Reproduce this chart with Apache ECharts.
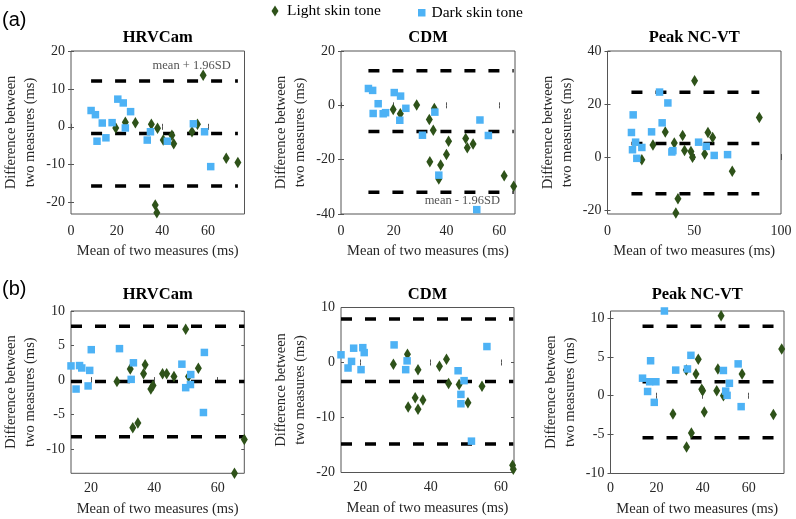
<!DOCTYPE html>
<html><head><meta charset="utf-8">
<script src="https://cdn.jsdelivr.net/npm/echarts@6/dist/echarts.min.js"></script>
<style>html,body{margin:0;padding:0;background:#fff}#c{width:796px;height:519px}</style>
</head><body><div id="c"></div>
<script>
// ---------- data ----------
const panelTitles = ['HRVCam', 'CDM', 'Peak NC-VT', 'HRVCam', 'CDM', 'Peak NC-VT'];
const seriesNames = ['Light skin tone', 'Dark skin tone'];

const a1Light = [[19.6,-0.3],[23.8,1.2],[28.2,1.1],[35.2,0.7],[36.9,-20.6],[37.6,-22.7],[37.9,-0.35],[40.4,-3.5],[44.2,-2.2],[45.0,-4.5],[53.0,-1.3],[55.4,0.7],[57.9,13.6],[68.0,-8.3],[73.1,-9.4]];
const a1Dark = [[8.8,4.3],[10.7,3.2],[11.4,-3.8],[13.7,1.0],[15.3,-2.9],[18.0,1.1],[20.5,7.3],[22.9,6.3],[23.8,-0.3],[26.1,4.0],[33.4,-3.5],[34.8,-1.3],[42.2,-3.8],[53.6,0.8],[58.5,-1.3],[61.2,-10.5]];

const a2Light = [[19.8,-1.5],[22.5,-3.1],[28.7,0.1],[33.5,-5.2],[33.7,-20.8],[35.0,-9.2],[35.4,-1.2],[37.1,-27.1],[37.8,-22.0],[40.0,-18.1],[40.8,-13.2],[47.3,-12.2],[47.9,-15.6],[50.1,-14.2],[61.9,-25.9],[65.5,-29.8]];
const a2Dark = [[10.4,6.2],[12.0,5.5],[12.2,-3.0],[14.1,0.6],[16.0,-3.1],[16.9,-2.7],[20.2,4.7],[22.3,-5.5],[22.6,3.4],[24.6,-1.1],[30.9,-11.0],[35.6,-2.5],[37.1,-25.7],[51.5,-38.4],[52.7,-5.4],[55.9,-11.1]];

const a3Light = [[19.8,-1.0],[26.2,4.5],[33.3,9.4],[38.5,5.25],[39.4,-21.1],[40.6,-15.75],[43.3,8.1],[44.4,2.5],[48.1,2.1],[49.0,-0.1],[50.2,28.75],[56.0,1.1],[57.9,9.25],[60.6,7.4],[71.9,-5.4],[87.5,14.9]];
const a3Dark = [[13.8,9.25],[14.4,2.75],[14.8,15.9],[16.2,5.6],[16.9,-0.5],[19.8,3.6],[25.4,9.5],[30.0,24.5],[31.5,12.9],[34.8,20.4],[37.1,1.9],[37.7,2.4],[52.5,5.6],[56.9,4.0],[61.5,0.6],[69.2,0.9]];

const b1Light = [[28.2,-0.2],[32.4,1.6],[33.2,-6.9],[34.8,-6.2],[36.6,0.9],[37.1,2.2],[38.9,-1.3],[39.6,-0.8],[42.6,0.9],[43.9,0.9],[46.2,0.5],[49.9,7.35],[50.8,0.5],[53.9,1.7],[65.3,-13.5],[68.4,-8.6]];
const b1Dark = [[13.7,2.05],[15.3,-1.3],[16.4,2.1],[17.1,1.75],[19.1,-0.85],[19.6,1.4],[20.1,4.4],[29.0,4.55],[32.7,0.1],[33.4,2.5],[48.7,2.3],[49.9,-1.1],[51.4,-0.65],[51.5,0.8],[55.5,-4.7],[55.8,4.0]];

const b2Light = [[29.4,-0.3],[33.4,1.5],[33.6,-8.1],[35.6,-6.4],[36.4,-1.3],[36.4,-8.5],[37.8,-6.8],[42.5,-0.7],[44.5,0.6],[45.1,-3.8],[48.1,-4.0],[50.6,-7.3],[54.6,-4.3],[63.3,-18.7],[63.5,-19.4]];
const b2Dark = [[14.5,1.4],[16.5,-1.0],[17.5,0.2],[18.1,2.6],[20.2,-1.3],[20.7,2.7],[21.1,1.8],[29.6,3.2],[32.9,-1.3],[33.3,0.3],[47.8,-1.5],[48.6,-5.8],[48.6,-7.5],[49.5,-3.3],[51.6,-14.3],[56.0,2.9]];

const b3Light = [[27.1,-2.35],[32.9,3.3],[33.0,-6.6],[35.1,-4.8],[37.1,2.8],[38.1,4.7],[39.6,0.85],[40.0,0.65],[40.7,-2.1],[46.1,0.65],[46.6,3.45],[48.0,10.3],[49.0,0.0],[57.1,2.8],[70.7,-2.4],[74.3,6.0]];
const b3Dark = [[13.9,2.26],[16.1,0.55],[17.0,1.8],[17.4,4.5],[19.0,-0.85],[19.7,1.8],[23.4,10.9],[28.3,3.3],[33.4,3.45],[34.9,5.2],[49.0,3.25],[50.0,0.6],[50.6,0.05],[51.6,1.6],[55.4,4.1],[56.7,-1.4]];

const lightSets = [a1Light, a2Light, a3Light, b1Light, b2Light, b3Light];
const darkSets = [a1Dark, a2Dark, a3Dark, b1Dark, b2Dark, b3Dark];

// limits of agreement (upper, mean, lower)
const loaUpper = [12.1, 12.7, 24.4, 7.8, 7.9, 8.95];
const loaMean = [-1.75, -9.6, 5.1, -0.2, -3.45, 1.8];
const loaLower = [-15.6, -32.0, -13.9, -8.2, -14.8, -5.4];

// axis ranges and ticks
const xMinArr = [0, 0, 0, 13.7, 14.5, 0];
const xMaxArr = [76, 66, 100, 68.4, 63.7, 75.3];
const yMinArr = [-23, -40, -21.5, -13.5, -20, -10];
const yMaxArr = [20, 20, 40, 10, 10, 10.9];
const xTickArr = [[0,20,40,60],[0,20,40,60],[0,50,100],[20,40,60],[20,40,60],[0,20,40,60]];
const yTickArr = [[-20,-10,0,10,20],[-40,-20,0,20],[-20,0,20,40],[-10,-5,0,5,10],[-20,-10,0,10],[-10,-5,0,5,10]];

// annotations
const noteText = ['mean + 1.96SD', 'mean - 1.96SD'];
const notePanel = [0, 1];
const notePos = [[70, 16.2], [60.3, -35.1]];

// ---------- layout ----------
const FONT = '"Liberation Serif", "Times New Roman", serif';
const gridBoxes = [
  {left: 71, top: 51, width: 173.5, height: 163},
  {left: 341, top: 51, width: 174, height: 163},
  {left: 607.5, top: 51, width: 173.5, height: 163},
  {left: 71, top: 311, width: 173.3, height: 162.3},
  {left: 341, top: 307.5, width: 173, height: 165},
  {left: 610.5, top: 311, width: 173.5, height: 162.5}
];
const GREEN = '#2e5219', BLUE = '#4db2f5', AXC = '#555555', TXT = '#262626';

const grid = [], xAxis = [], yAxis = [], series = [], graphic = [];
gridBoxes.forEach((g, i) => {
  const bottomRow = i >= 3;
  grid.push(Object.assign({show: true, borderColor: AXC, borderWidth: 1, backgroundColor: 'transparent'}, g));
  xAxis.push({
    type: 'value', gridIndex: i, position: 'bottom', min: xMinArr[i], max: xMaxArr[i],
    axisLine: {show: false}, splitLine: {show: false},
    axisTick: {show: true, inside: true, length: 3, lineStyle: {color: AXC}, customValues: xTickArr[i]},
    axisLabel: {customValues: xTickArr[i], margin: bottomRow ? 8 : 10, fontFamily: FONT, fontSize: 14, color: TXT},
    name: 'Mean of two measures (ms)', nameLocation: 'middle', nameGap: bottomRow ? 28 : 30,
    nameTextStyle: {fontFamily: FONT, fontSize: 14.5, color: TXT}
  });
  xAxis.push({
    type: 'value', gridIndex: i, position: 'top', min: xMinArr[i], max: xMaxArr[i],
    axisLine: {show: false}, splitLine: {show: false}, axisLabel: {show: false},
    axisTick: {show: true, inside: true, length: 3, lineStyle: {color: AXC}, customValues: xTickArr[i]}
  });
  yAxis.push({
    type: 'value', gridIndex: i, position: 'left', min: yMinArr[i], max: yMaxArr[i],
    axisLine: {show: false}, splitLine: {show: false},
    axisTick: {show: true, inside: true, length: 3, lineStyle: {color: AXC}, customValues: yTickArr[i]},
    axisLabel: {customValues: yTickArr[i], margin: 6, fontFamily: FONT, fontSize: 14, color: TXT},
    name: 'Difference between\ntwo measures (ms)', nameLocation: 'middle', nameRotate: 90, nameGap: 31,
    nameTextStyle: {fontFamily: FONT, fontSize: 14.5, lineHeight: 19, color: TXT}
  });
  yAxis.push({
    type: 'value', gridIndex: i, position: 'right', min: yMinArr[i], max: yMaxArr[i],
    axisLine: {show: false}, splitLine: {show: false}, axisLabel: {show: false},
    axisTick: {show: true, inside: true, length: 3, lineStyle: {color: AXC}, customValues: yTickArr[i]}
  });

  const xi = 2 * i, yi = 2 * i;
  const allX = lightSets[i].concat(darkSets[i]).map(p => p[0]);
  const xs = Math.min.apply(null, allX), xe = Math.max.apply(null, allX);
  [loaUpper[i], loaMean[i], loaLower[i]].forEach(v => {
    series.push({
      type: 'line', xAxisIndex: xi, yAxisIndex: yi, data: [[xs, v], [xe, v]],
      symbol: 'none', silent: true, z: 1, animation: false,
      lineStyle: {color: '#000', width: 3.5, type: [11, 13], cap: 'butt'}
    });
  });
  series.push({
    name: seriesNames[0], type: 'scatter', xAxisIndex: xi, yAxisIndex: yi, data: lightSets[i],
    symbol: 'diamond', symbolSize: [7, 11.5], itemStyle: {color: GREEN, opacity: 1}, z: 3, clip: false, animation: false
  });
  series.push({
    name: seriesNames[1], type: 'scatter', xAxisIndex: xi, yAxisIndex: yi, data: darkSets[i],
    symbol: 'rect', symbolSize: 7.5, itemStyle: {color: BLUE, opacity: 1}, z: 4, clip: false, animation: false
  });

  graphic.push({
    type: 'text', x: g.left + g.width / 2, y: bottomRow ? 294.5 : 37.5,
    style: {text: panelTitles[i], align: 'center', verticalAlign: 'middle',
      font: 'bold 16.5px ' + FONT, fill: '#000'}
  });
});

notePanel.forEach((p, k) => {
  series.push({
    type: 'scatter', xAxisIndex: 2 * p, yAxisIndex: 2 * p, data: [notePos[k]],
    symbolSize: 0, silent: true, animation: false, z: 5,
    label: {show: true, position: 'left', distance: 0, formatter: noteText[k],
      fontFamily: FONT, fontSize: 12.5, color: TXT}
  });
});

graphic.push({type: 'text', x: 2, y: 20, style: {text: '(a)', verticalAlign: 'middle',
  font: '20px "Liberation Sans", Arial, sans-serif', fill: '#000'}});
graphic.push({type: 'text', x: 2, y: 289, style: {text: '(b)', verticalAlign: 'middle',
  font: '20px "Liberation Sans", Arial, sans-serif', fill: '#000'}});

const option = {
  backgroundColor: '#fff',
  animation: false,
  grid, xAxis, yAxis, series, graphic,
  legend: [
    {data: [{name: seriesNames[0], icon: 'diamond'}], left: 271.5, top: 3, padding: 0,
      itemWidth: 7, itemHeight: 11, selectedMode: false,
      textStyle: {fontFamily: FONT, fontSize: 15.5, color: '#000', padding: [0, 0, 0, 3.5]}},
    {data: [{name: seriesNames[1], icon: 'rect'}], left: 418, top: 4.75, padding: 0,
      itemWidth: 7.5, itemHeight: 7.5, selectedMode: false,
      textStyle: {fontFamily: FONT, fontSize: 15.5, color: '#000', padding: [0, 0, 0, 1]}}
  ]
};
const chart = echarts.init(document.getElementById('c'), null, {renderer: 'canvas'});
chart.setOption(option);
</script></body></html>
